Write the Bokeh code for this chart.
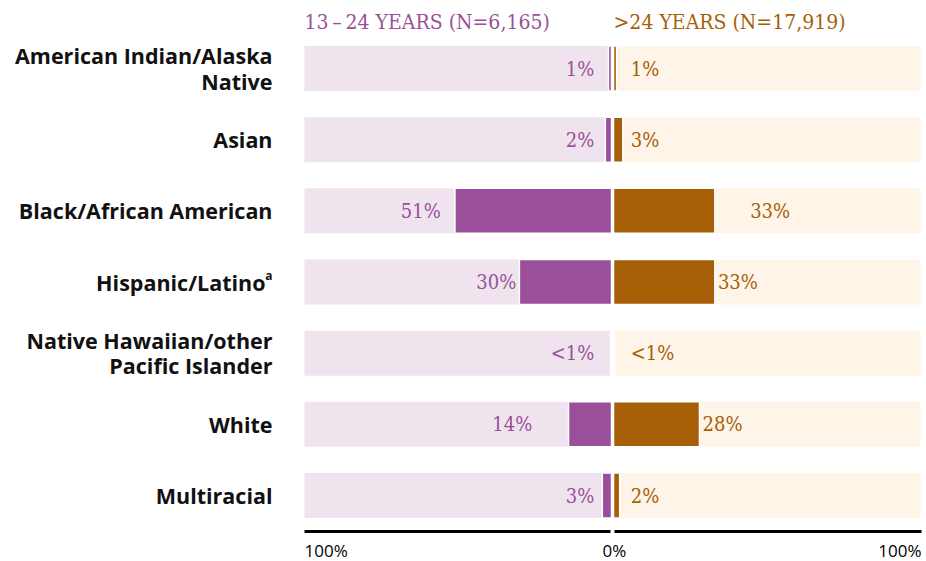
from bokeh.plotting import figure
from bokeh.models import Range1d
from bokeh.embed import file_html
from bokeh.resources import INLINE
from bokeh.core.properties import value

# ---- data ----
categories = ["American Indian/Alaska\nNative", "Asian", "Black/African American",
              "Hispanic/Latino", "Native Hawaiian/other\nPacific Islander", "White", "Multiracial"]
young_pct = [1, 2, 51, 30, 0.3, 14, 3]
young_labels = ["1%", "2%", "51%", "30%", "<1%", "14%", "3%"]
older_pct = [1, 3, 33, 33, 0.3, 28, 2]
older_labels = ["1%", "3%", "33%", "33%", "<1%", "28%", "2%"]
header_young = "13\u2009\u2013\u200924 YEARS (N=6,165)"
header_older = ">24 YEARS (N=17,919)"
tick_labels = ["100%", "0%", "100%"]

# ---- layout ----
PURPLE = "#9B4F9A"
PURPLE_BG = "#EFE4EE"
ORANGE = "#A65F07"
ORANGE_BG = "#FEF4E8"
SERIF = "DejaVu Serif Condensed"
SANS = "Open Sans"

W, H = 926, 561
G = 0.33            # half gap at zero (data units)
PXU = 3.07          # px per percent
x_left = -100.33 - 304 / PXU
x_right = x_left + W / PXU
ROW = 71.17
y_top = -68 / ROW
y_bot = y_top + H / ROW

p = figure(width=W, height=H, output_backend="svg", toolbar_location=None,
           x_range=Range1d(x_left, x_right), y_range=Range1d(y_bot, y_top),
           min_border=0, outline_line_color=None)
p.axis.visible = False
p.grid.visible = False
p.background_fill_color = "white"
p.border_fill_color = "white"

n = len(categories)
rows = list(range(n))
bh = 45 / ROW
tops = [r - bh / 2 for r in rows]
bots = [r + bh / 2 for r in rows]

# backgrounds
p.quad(left=[-100 - G] * n, right=[-G] * n, top=tops, bottom=bots,
       fill_color=PURPLE_BG, line_color=None)
p.quad(left=[G] * n, right=[100 + G] * n, top=tops, bottom=bots,
       fill_color=ORANGE_BG, line_color=None)

# bars
p.quad(left=[-v - G for v in young_pct], right=[-G] * n, top=tops, bottom=bots,
       fill_color=PURPLE, line_color="white", line_width=1.5)
p.quad(left=[G] * n, right=[v + G for v in older_pct], top=tops, bottom=bots,
       fill_color=ORANGE, line_color="white", line_width=1.5)

# value labels
left_extra = [0, 0, 3.6, 0, 0, 10.8, 0]
right_extra = [0, 0, 10.5, 0, 0, 0, 0]
lx = [-(max(v, 4.6) + 1 + G + e) for v, e in zip(young_pct, left_extra)]
rx = [(max(v, 4.6) + 1 + G + e) for v, e in zip(older_pct, right_extra)]
p.text(x=lx, y=rows, text=young_labels, text_align="right", text_baseline="middle",
       text_font=value(SERIF), text_font_size="20px", text_color=PURPLE)
p.text(x=rx, y=rows, text=older_labels, text_align="left", text_baseline="middle",
       text_font=value(SERIF), text_font_size="20px", text_color=ORANGE)

# category labels
cat_x = -100.33 - 32 / PXU
sup_w = 7 / PXU
cx = [cat_x - (sup_w if c == "Hispanic/Latino" else 0) for c in categories]
p.text(x=cx, y=rows, text=categories, text_align="right", text_baseline="middle",
       text_font=value(SANS), text_font_style="bold", text_font_size="21.5px",
       text_color="#111111", text_line_height=0.88)
p.text(x=[cat_x], y=[categories.index("Hispanic/Latino") - 0.09], text=["a"],
       text_align="right", text_baseline="middle", text_font=value(SANS),
       text_font_style="bold", text_font_size="12px", text_color="#111111")

# headers
hy = (21 - 68) / ROW
p.text(x=[-100 - G], y=[hy], text=[header_young], text_align="left", text_baseline="middle",
       text_font=value(SERIF), text_font_size="21px", text_color=PURPLE)
p.text(x=[G], y=[hy], text=[header_older], text_align="left", text_baseline="middle",
       text_font=value(SERIF), text_font_size="21px", text_color=ORANGE)

# bottom axis lines
ay = (531 - 68) / ROW
p.segment(x0=[-100 - G, 2 / PXU], y0=[ay, ay], x1=[-2 / PXU, 100.33 + 1 / PXU], y1=[ay, ay],
          line_color="black", line_width=3)
ty = (550 - 68) / ROW
p.text(x=[-100 - G, 0.6, 100.33 + 1 / PXU], y=[ty] * 3, text=tick_labels,
       text_align=["left", "center", "right"], text_baseline="middle",
       text_font=value(SANS), text_font_size="17px", text_color="black")

open("out.html", "w").write(file_html(p, INLINE))
